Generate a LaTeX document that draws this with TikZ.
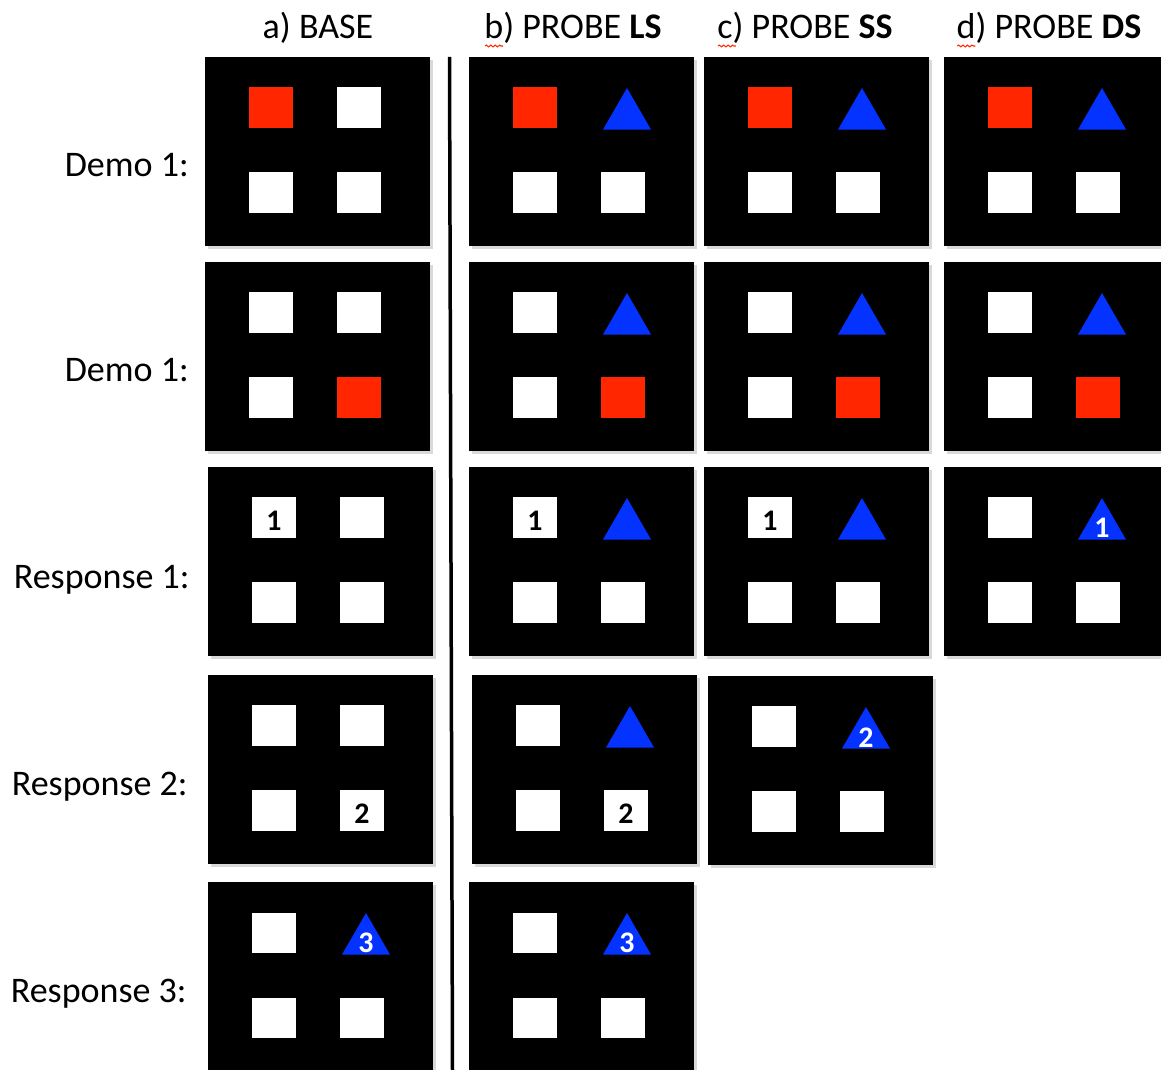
\documentclass[tikz,border=0pt]{standalone}
\usepackage{fontspec}
\setmainfont{Carlito}
\usetikzlibrary{shapes,arrows,positioning,calc,shadows,decorations.pathmorphing}
\definecolor{keyred}{RGB}{255,38,0}
\definecolor{keyblue}{RGB}{4,51,255}

\begin{document}
\begin{tikzpicture}[x=0.02cm,y=-0.02cm,
  panel/.style={anchor=north west,fill=black,inner sep=0,minimum width=4.5cm,minimum height=3.78cm,
    drop shadow={shadow xshift=0.05cm,shadow yshift=-0.06cm,opacity=0.3}},
  wsq/.style={fill=white,inner sep=0,minimum width=0.88cm,minimum height=0.82cm},
  rsq/.style={wsq,fill=keyred},
  tri/.style={regular polygon,regular polygon sides=3,fill=keyblue,inner sep=0,minimum size=1.11cm,
    xshift=0.08cm,yshift=-0.155cm},
  num/.style={inner sep=0,yshift=-0.05cm,font=\fontsize{17}{20}\selectfont\bfseries},
  trinum/.style={num,text=white},
  head/.style={anchor=base,inner sep=0,font=\fontsize{20.5}{24}\selectfont},
  rowlbl/.style={anchor=base east,inner sep=0,font=\fontsize{20.5}{24}\selectfont},
  squiggle/.style={keyred,line width=0.6pt,decorate,decoration={snake,amplitude=0.5pt,segment length=2.5pt}}]
\useasboundingbox (0,0) rectangle (1161,1070);
\clip (0,0) rectangle (1161,1070);

% column heads
\node[head] (ha) at (318,39) {a) BASE};
\node[head] (hb) at (573,39) {b) PROBE \textbf{LS}};
\node[head] (hc) at (805,39) {c) PROBE \textbf{SS}};
\node[head] (hd) at (1049,39) {d) PROBE \textbf{DS}};
\draw[squiggle] ($(hb.base west)+(1,7)$) -- ++(18,0);
\draw[squiggle] ($(hc.base west)+(1,7)$) -- ++(18,0);
\draw[squiggle] ($(hd.base west)+(1,7)$) -- ++(18,0);

% row labels
\node[rowlbl] (r1) at (189,177) {Demo 1:};
\node[rowlbl] (r2) at (189,382) {Demo 1:};
\node[rowlbl] (r3) at (190,589) {Response 1:};
\node[rowlbl] (r4) at (188,796) {Response 2:};
\node[rowlbl] (r5) at (187,1003) {Response 3:};

% screens
\foreach \n/\x/\y/\tl/\tr/\bl/\br in {
  a1/205/57/rsq/wsq/wsq/wsq, a2/205/262/wsq/wsq/wsq/rsq, a3/208/467/wsq/wsq/wsq/wsq,
  a4/208/675/wsq/wsq/wsq/wsq, a5/208/882/wsq/tri/wsq/wsq,
  b1/469/57/rsq/tri/wsq/wsq, b2/469/262/wsq/tri/wsq/rsq, b3/469/467/wsq/tri/wsq/wsq,
  b4/472/675/wsq/tri/wsq/wsq, b5/469/882/wsq/tri/wsq/wsq,
  c1/704/57/rsq/tri/wsq/wsq, c2/704/262/wsq/tri/wsq/rsq, c3/704/467/wsq/tri/wsq/wsq,
  c4/708/676/wsq/tri/wsq/wsq,
  d1/944/57/rsq/tri/wsq/wsq, d2/944/262/wsq/tri/wsq/rsq, d3/944/467/wsq/tri/wsq/wsq}
{
  \node[panel] (\n) at (\x,\y) {};
  \node[\tl] (\n-tl) at ($(\n.north west)+(66,51)$) {};
  \node[\tr] (\n-tr) at ($(\n.north west)+(154,51)$) {};
  \node[\bl] (\n-bl) at ($(\n.north west)+(66,136)$) {};
  \node[\br] (\n-br) at ($(\n.north west)+(154,136)$) {};
}

% response order
\node[num] (a3n) at (a3-tl) {1};
\node[num] (a4n) at (a4-br) {2};
\node[trinum] (a5n) at (a5-tr) {3};
\node[num] (b3n) at (b3-tl) {1};
\node[num] (b4n) at (b4-br) {2};
\node[trinum] (b5n) at (b5-tr) {3};
\node[num] (c3n) at (c3-tl) {1};
\node[trinum] (c4n) at (c4-tr) {2};
\node[trinum] (d3n) at (d3-tr) {1};

% divider
\draw[line width=0.07cm] (449.5,57) -- (452.5,1070);
\end{tikzpicture}
\end{document}
